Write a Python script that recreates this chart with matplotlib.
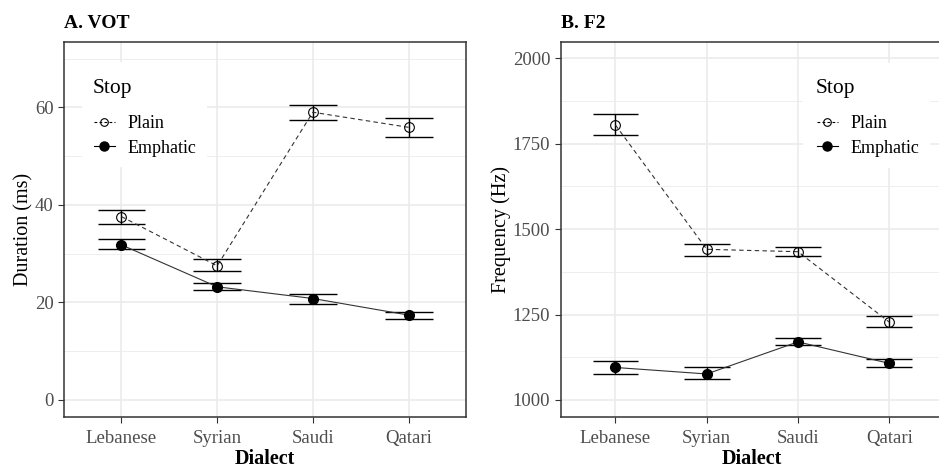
import matplotlib
matplotlib.use("Agg")
import matplotlib.pyplot as plt
from matplotlib.lines import Line2D
from matplotlib.patches import Rectangle
import numpy as np

plt.rcParams['font.family'] = ['Liberation Serif', 'DejaVu Serif']

dialects = ["Lebanese", "Syrian", "Saudi", "Qatari"]

# Panel A: VOT (ms)
vot_plain = [37.6, 27.5, 59.0, 55.9]
vot_plain_lo = [36.1, 26.5, 57.5, 54.0]
vot_plain_hi = [38.9, 29.0, 60.5, 57.9]
vot_emph = [31.8, 23.2, 20.8, 17.4]
vot_emph_lo = [30.9, 22.5, 19.7, 16.5]
vot_emph_hi = [32.9, 24.0, 21.7, 18.0]

# Panel B: F2 (Hz)
f2_plain = [1805, 1441, 1434, 1228]
f2_plain_lo = [1776, 1421, 1421, 1214]
f2_plain_hi = [1837, 1456, 1447, 1245]
f2_emph = [1095, 1076, 1170, 1107]
f2_emph_lo = [1077, 1061, 1160, 1095]
f2_emph_hi = [1114, 1095, 1180, 1120]

GRID = "#EBEBEB"
TICKC = "#4D4D4D"
W, H = 939, 469

fig = plt.figure(figsize=(9.39, 4.69), dpi=100)
AX1 = (64, 466)
AX2 = (560.7, 944)
YTOP, YBOT = 42, 417
ax1 = fig.add_axes([AX1[0]/W, 1-YBOT/H, (AX1[1]-AX1[0])/W, (YBOT-YTOP)/H])
ax2 = fig.add_axes([AX2[0]/W, 1-YBOT/H, (AX2[1]-AX2[0])/W, (YBOT-YTOP)/H])


def px2ax(axr, px, py):
    return ((px - axr[0]) / (axr[1] - axr[0]), (YBOT - py) / (YBOT - YTOP))


def draw(ax, axr, plain, plo, phi, emph, elo, ehi, ylim, yticks, yminor, ylabel, title,
         box, title_x, handle_x):
    x = np.arange(1, len(dialects) + 1)
    ax.set_facecolor("white")
    for yy in yminor:
        ax.axhline(yy, color=GRID, lw=0.6, zorder=0)
    for yy in yticks:
        ax.axhline(yy, color=GRID, lw=1.2, zorder=0)
    for xx in x:
        ax.axvline(xx, color=GRID, lw=1.2, zorder=0)
    # legend background box
    x0, y0 = px2ax(axr, box[0], box[3])
    x1, y1 = px2ax(axr, box[1], box[2])
    ax.add_patch(Rectangle((x0, y0), x1 - x0, y1 - y0, transform=ax.transAxes,
                           facecolor="white", edgecolor="none", zorder=0.5))
    # error bars
    for lo, hi in ((plo, phi), (elo, ehi)):
        ax.vlines(x, lo, hi, color="black", lw=1.0, zorder=2)
        ax.hlines(lo, x - 0.25, x + 0.25, color="black", lw=1.0, zorder=2)
        ax.hlines(hi, x - 0.25, x + 0.25, color="black", lw=1.0, zorder=2)
    ax.plot(x, plain, ls=(0, (4, 3)), color="#333333", lw=0.8, zorder=3,
            marker="o", ms=7, mfc="none", mec="black", mew=0.8)
    ax.plot(x, emph, ls="-", color="#333333", lw=0.8, zorder=3,
            marker="o", ms=7, mfc="black", mec="black")
    ax.set_xlim(0.4, 4.6)
    ax.set_ylim(*ylim)
    ax.set_xticks(x)
    ax.set_xticklabels(dialects)
    ax.set_yticks(yticks)
    ax.tick_params(axis="both", colors="#333333", labelcolor=TICKC, labelsize=13.5,
                   length=4.5, width=0.8)
    ax.tick_params(axis="x", pad=5)
    ax.tick_params(axis="y", pad=3)
    for s in ax.spines.values():
        s.set_color("#333333")
        s.set_linewidth(1.1)
    ax.set_xlabel("Dialect", fontsize=14.5, fontweight="bold", labelpad=1.5)
    ax.set_ylabel(ylabel, fontsize=14.5, labelpad=1)
    ax.set_title(title, loc="left", fontsize=14, fontweight="bold", pad=10)
    # legend title
    tx, ty = px2ax(axr, title_x, 89)
    ax.text(tx, ty, "Stop", transform=ax.transAxes, fontsize=15.5, ha="left",
            va="center", zorder=5)
    handles = [
        Line2D([], [], ls=(0, (2.5, 2)), color="black", lw=0.8, marker="o", ms=5.5,
               mfc="none", mec="black", mew=0.8),
        Line2D([], [], ls="-", color="black", lw=0.8, marker="o", ms=6.5,
               mfc="black", mec="black"),
    ]
    hx, hy = px2ax(axr, handle_x, 136)
    leg = ax.legend(handles, ["Plain", "Emphatic"], loc="center left",
                    bbox_to_anchor=(hx, hy), frameon=False, fontsize=13,
                    handlelength=1.16, handletextpad=0.72, labelspacing=0.4,
                    borderpad=0, borderaxespad=0)
    leg.set_zorder(5)


draw(ax1, AX1, vot_plain, vot_plain_lo, vot_plain_hi, vot_emph, vot_emph_lo, vot_emph_hi,
     (-3.5, 73.4), [0, 20, 40, 60], [10, 30, 50, 70], "Duration (ms)", "A. VOT",
     (82, 207, 62, 167), 92.7, 94)
draw(ax2, AX2, f2_plain, f2_plain_lo, f2_plain_hi, f2_emph, f2_emph_lo, f2_emph_hi,
     (950, 2048), [1000, 1250, 1500, 1750, 2000], [1125, 1375, 1625, 1875],
     "Frequency (Hz)", "B. F2", (803, 930, 63, 168), 816, 817)

fig.savefig("out.png", dpi=100, facecolor="white")
